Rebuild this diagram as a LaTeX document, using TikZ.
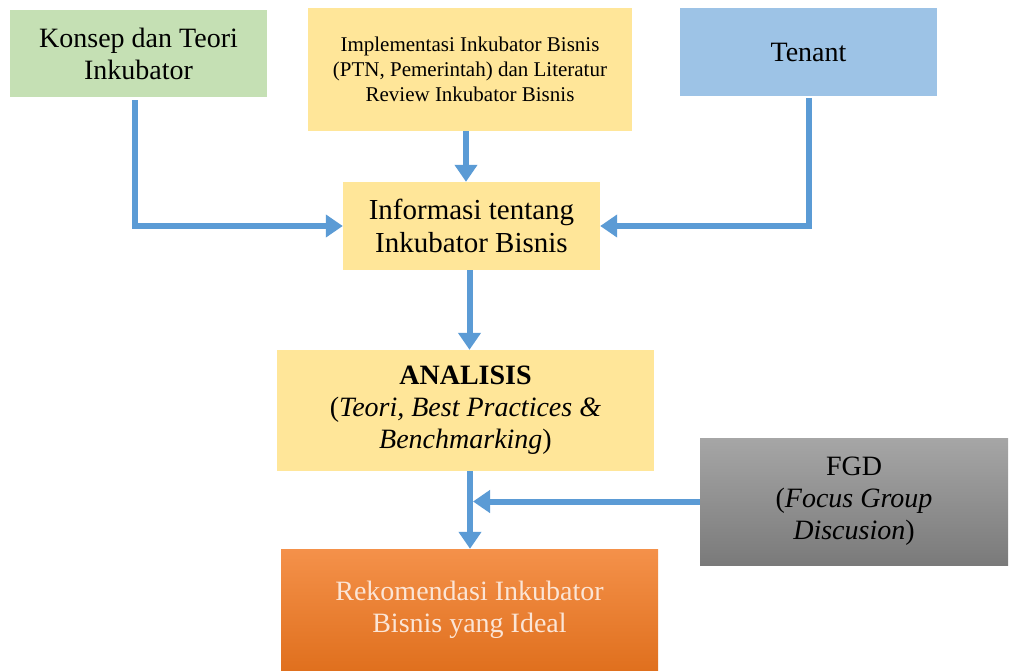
\documentclass[tikz,border=0pt]{standalone}
\usepackage{fontspec}
\setmainfont{Liberation Serif}
\usetikzlibrary{arrows.meta}
\definecolor{boxgreen}{HTML}{C5E0B4}
\definecolor{boxyellow}{HTML}{FFE699}
\definecolor{boxblue}{HTML}{9DC3E6}
\definecolor{arrowblue}{HTML}{5B9BD5}
\definecolor{orangetop}{HTML}{F4914A}
\definecolor{orangebot}{HTML}{E0701E}
\definecolor{graytop}{HTML}{A6A6A6}
\definecolor{graybot}{HTML}{7A7A7A}
\definecolor{cream}{HTML}{FBE5D6}
\tikzset{
  box/.style={inner sep=0pt, align=center, text=black,
    font=\fontsize{28}{32}\selectfont},
  arr/.style={draw=arrowblue, line width=6pt,
    -{Triangle[width=22pt,length=17pt]}},
}
\begin{document}
\begin{tikzpicture}[x=1pt,y=-1pt]
\useasboundingbox (0,0) rectangle (1010,670);

% source boxes
\node[box, fill=boxgreen, minimum width=257pt, minimum height=87pt]
  (konsep) at (138.5,53.5) {Konsep dan Teori\\Inkubator};
\node[box, fill=boxyellow, minimum width=324pt, minimum height=123pt,
  font=\fontsize{21}{25}\selectfont]
  (impl) at (470,69.5) {Implementasi Inkubator Bisnis\\(PTN, Pemerintah) dan Literatur\\Review Inkubator Bisnis};
\node[box, fill=boxblue, minimum width=257pt, minimum height=88pt]
  (tenant) at (808.5,52) {Tenant};

% central chain
\node[box, fill=boxyellow, minimum width=257pt, minimum height=88pt,
  font=\fontsize{29}{33}\selectfont]
  (info) at (471.5,226) {Informasi tentang\\Inkubator Bisnis};
\node[box, fill=boxyellow, minimum width=377pt, minimum height=121pt]
  (ana) at (465.5,410.5) {\textbf{ANALISIS}\\(\textit{Teori, Best Practices \&}\\\textit{Benchmarking})};
\node[box, top color=graytop, bottom color=graybot, minimum width=308pt, minimum height=127pt]
  (fgd) at (854,501.5) {FGD\\(\textit{Focus Group}\\\textit{Discusion})};
\node[box, top color=orangetop, bottom color=orangebot, text=cream,
  minimum width=377pt, minimum height=121pt]
  (rek) at (469.5,609.5) {Rekomendasi Inkubator\\Bisnis yang Ideal};

% connectors
\draw[arr] ([xshift=-4pt,yshift=-3pt]konsep.south) |- (info.west);
\draw[arr] ([xshift=-4pt]impl.south) -- ([xshift=-5.5pt]info.north);
\draw[arr] ([yshift=-2pt]tenant.south) |- (info.east);
\draw[arr] ([xshift=-2pt]info.south) -- ([xshift=4pt]ana.north);
\draw[arr] ([xshift=4.5pt]ana.south) -- ([xshift=0.5pt]rek.north);
\coordinate (join) at ([xshift=7.5pt]ana.south |- fgd.west);
\draw[arr] (fgd.west) -- (join);
\end{tikzpicture}
\end{document}
